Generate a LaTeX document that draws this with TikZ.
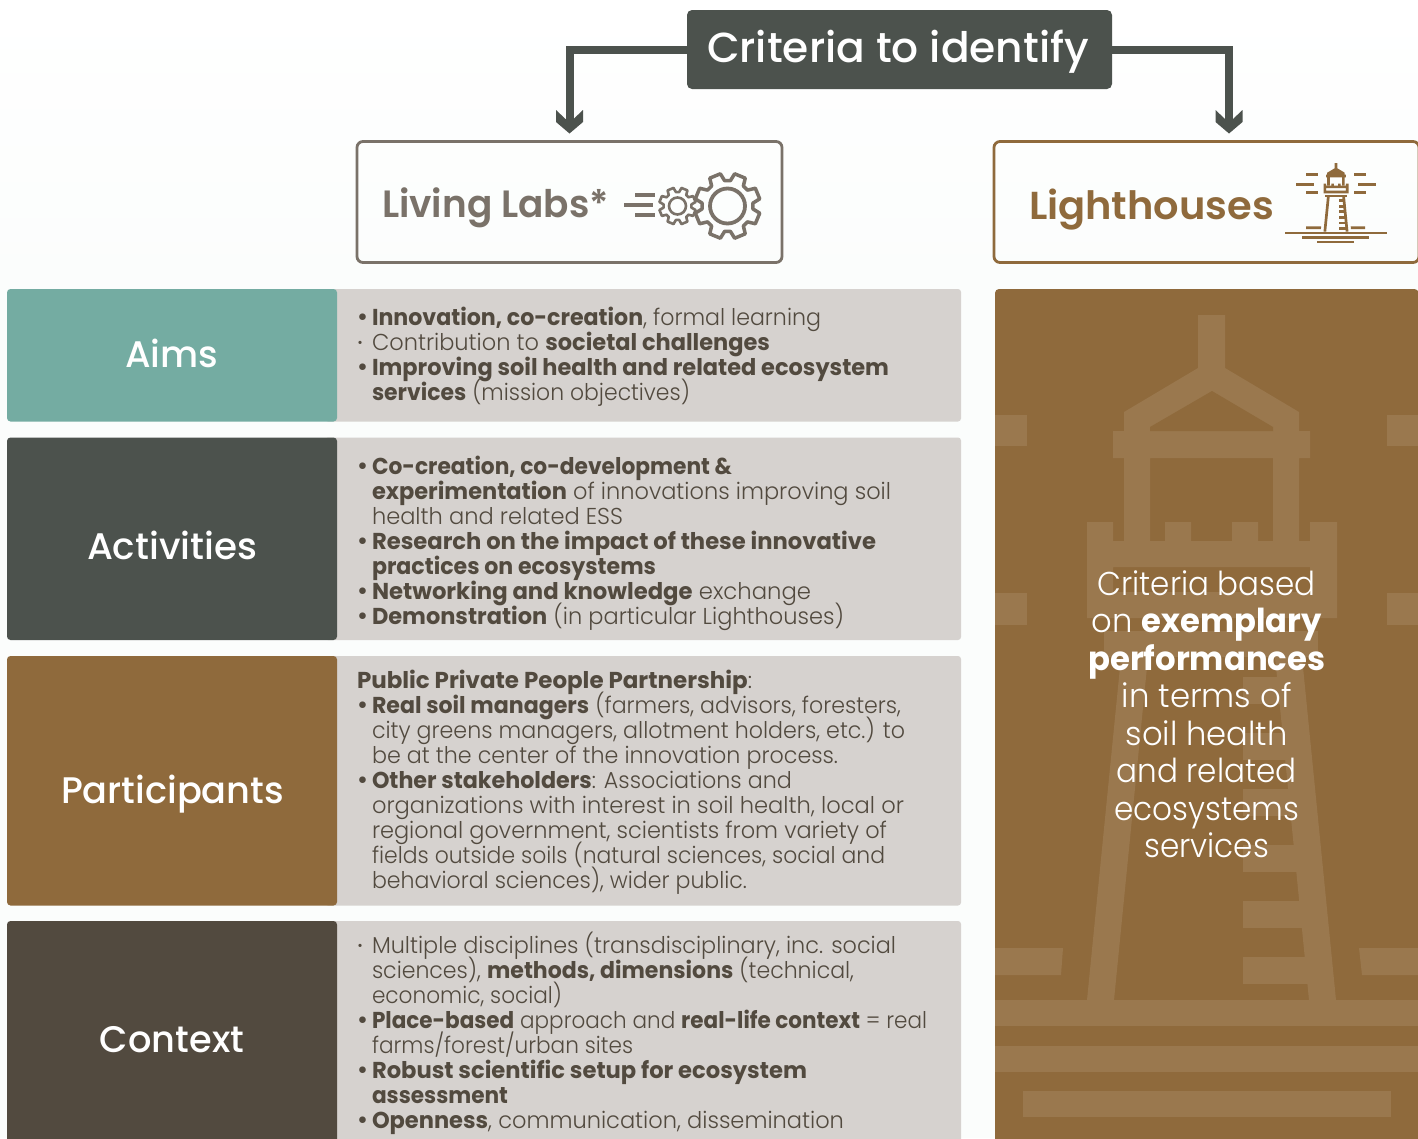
\documentclass[tikz,border=0pt]{standalone}
\usepackage{fontspec}
\usepackage{graphicx}
\usetikzlibrary{arrows.meta}
\setmainfont{Poppins}[UprightFont=* Light,BoldFont=* Bold]
\newfontfamily\medfont{Poppins}[UprightFont=* Medium]
\newfontfamily\semifont{Poppins}[UprightFont=* SemiBold]
\definecolor{tealc}{HTML}{74ACA2}
\definecolor{darkc}{HTML}{4C524D}
\definecolor{brownc}{HTML}{8F6A3C}
\definecolor{ghostc}{HTML}{9A784E}
\definecolor{contextc}{HTML}{524A3F}
\definecolor{panelc}{HTML}{D6D2CF}
\definecolor{greyc}{HTML}{7A7269}
\definecolor{bodyc}{HTML}{524A3F}
\definecolor{paperc}{HTML}{FBFDFC}
\pgfdeclarearrow{
  name=Chev,
  setup code={
    \pgfarrowssettipend{0pt}
    \pgfarrowssetlineend{-10pt}
    \pgfarrowssetvisualbackend{-23.5pt}
    \pgfarrowssetbackend{-23.5pt}
  },
  drawing code={
    \pgfpathmoveto{\pgfqpoint{0pt}{0pt}}
    \pgfpathlineto{\pgfqpoint{-11.5pt}{13.5pt}}
    \pgfpathlineto{\pgfqpoint{-23.5pt}{13.5pt}}
    \pgfpathlineto{\pgfqpoint{-14.5pt}{4pt}}
    \pgfpathlineto{\pgfqpoint{-14.5pt}{-4pt}}
    \pgfpathlineto{\pgfqpoint{-23.5pt}{-13.5pt}}
    \pgfpathlineto{\pgfqpoint{-11.5pt}{-13.5pt}}
    \pgfpathclose
    \pgfusepathqfill
  }
}
\newcommand\wl[2]{\smash{\resizebox{#1pt}{\height}{#2}}}
\newcommand\lnA[2]{\strut\hspace*{15pt}\wl{#1}{#2}}
\newcommand\lnB[2]{\strut\makebox[15pt][l]{\smash{\raisebox{.8pt}{\scalebox{.95}{\bfseries •}}}}\wl{#1}{#2}}
\newcommand\lnL[2]{\strut\makebox[15pt][l]{\hspace*{.5pt}\smash{\raisebox{3pt}{\scalebox{.6}{•}}}}\wl{#1}{#2}}
\newcommand\lnP[2]{\strut\wl{#1}{#2}}
\newcommand\lighthouseicon[1]{%
  \fill[#1] (1198,315) -- (1225,315) -- (1225,368) -- (1299,412) -- (1299,431) -- (1310,431)
    -- (1310,458) -- (1299,458) -- (1299,541) -- (1273,541) -- (1273,458) -- (1150,458)
    -- (1150,541) -- (1124,541) -- (1124,458) -- (1113,458) -- (1113,431) -- (1124,431)
    -- (1124,412) -- (1198,368) -- cycle;
  \fill[brownc] (1212,391) -- (1273,427) -- (1273,431) -- (1150,431) -- (1150,427) -- cycle;
  \fill[#1,even odd rule] (1087,522) -- (1113,522) -- (1113,541) -- (1165,541) -- (1165,522)
    -- (1191,522) -- (1191,541) -- (1232,541) -- (1232,522) -- (1258,522) -- (1258,541)
    -- (1310,541) -- (1310,522) -- (1337,522) -- (1337,618) -- (1087,618) -- cycle
    (1113,567) rectangle (1310,592);
  \fill[#1] (1104,631) rectangle (1318,657);
  \fill[#1] (1087,1000) -- (1114,1000) -- (1148,657) -- (1121,657) -- cycle;
  \fill[#1] (1309,1000) -- (1336,1000) -- (1302,657) -- (1275,657) -- cycle;
  \foreach \ry in {677,733,789,845,901,957}{
    \fill[#1] (1243,\ry) rectangle ({1322-(1000-\ry)*0.1},\ry+27);
  }
  \fill[#1] (912,415) rectangle (1027,446);
  \fill[#1] (1387,415) rectangle (1512,446);
  \fill[#1] (812,510) rectangle (992,541);
  \fill[#1] (1432,510) rectangle (1612,541);
  \fill[#1] (912,593) rectangle (1027,625);
  \fill[#1] (1387,593) rectangle (1512,625);
  \fill[#1] (912,948) -- (1063,948) -- (1061,975) -- (912,975) -- cycle;
  \fill[#1] (1359,948) -- (1502,948) -- (1502,975) -- (1362,975) -- cycle;
  \fill[#1] (702,1000) rectangle (1722,1026);
  \fill[#1] (872,1046) rectangle (1542,1072);
  \fill[#1] (1023,1091) rectangle (1391,1117);
}
\newcommand\gearshape[6]{% cx,cy,root,tip,offset,lw
  \draw[greyc,line width=#6pt,line join=round,shift={(#1,#2)}]
    (#5-16:#3)
    \foreach \gi in {0,...,7}{
      -- ({#5+\gi*45-16}:#3) -- ({#5+\gi*45-10}:#4) -- ({#5+\gi*45+10}:#4) -- ({#5+\gi*45+16}:#3)
    } -- cycle;
}
\tikzset{
  every node/.style={inner sep=0pt,outer sep=0pt},
  conn/.style={draw=darkc,line width=8pt,-Chev},
  labelbox/.style={fill=#1,rounded corners=3.5pt},
  labeltxt/.style={text=white,anchor=base,font=\fontsize{37}{37}\selectfont\medfont},
  bodytxt/.style={text=bodyc,anchor=north west,align=left,font=\fontsize{23}{25}\selectfont},
}
\begin{document}
\begin{tikzpicture}[x=1pt,y=-1pt]
\useasboundingbox (0,0) rectangle (1418,1138);
\clip (0,0) rectangle (1418,1138);
\shade[top color=white,bottom color=paperc] (0,0) rectangle (1418,290);
\fill[paperc] (0,290) rectangle (1418,1138);
% title
\node[fill=darkc,rounded corners=5pt,minimum width=425pt,minimum height=79pt] (titlebox) at (899.5,49.5) {};
\node[text=white,anchor=base,font=\fontsize{42}{42}\selectfont\medfont] (title) at (898,62) {\wl{382}{Criteria to identify}};
\coordinate (llTip) at (569.5,133.5);
\coordinate (lhTip) at (1229,133.5);
\draw[conn] (titlebox.west) -| (llTip);
\draw[conn] (titlebox.east) -| (lhTip);
% head boxes
\node[draw=greyc,line width=2.8pt,rounded corners=6pt,minimum width=425pt,minimum height=121pt] (llbox) at (569.5,202) {};
\node[draw=brownc,line width=2.8pt,rounded corners=6pt,minimum width=425pt,minimum height=121pt] (lhbox) at (1206.5,202) {};
\node[anchor=base west,text=greyc,font=\fontsize{38}{38}\selectfont\semifont] (lltext) at (382,217) {\wl{227}{Living Labs*}};
\node[anchor=base west,text=brownc,font=\fontsize{39}{39}\selectfont\semifont] (lhtext) at (1029,219) {\wl{245}{Lighthouses}};
% gears
\draw[greyc,line width=4pt] (635,195) -- (655,195) (624,205) -- (653,205) (635,215) -- (655,215);
\gearshape{677.5}{206}{14}{18.5}{22.5}{2.6}
\draw[greyc,line width=2.6pt] (677.5,206) circle (8.5);
\gearshape{727.5}{206}{25.5}{33}{22.5}{3.5}
\draw[greyc,line width=3.8pt] (727.5,206) circle (17.5);
% small lighthouse
\begin{scope}[shift={(1214.8,131.5)},scale=0.1]
\lighthouseicon{brownc}
\end{scope}
% grey panels
\fill[panelc,rounded corners=3pt] (325,289) rectangle (961,421.5);
\fill[panelc,rounded corners=3pt] (325,437.5) rectangle (961,640);
\fill[panelc,rounded corners=3pt] (325,656) rectangle (961,905.5);
\fill[panelc,rounded corners=3pt] (325,921) rectangle (961,1150);
% label boxes
\fill[labelbox=tealc] (7,289) rectangle (337,421.5);
\fill[labelbox=darkc] (7,437.5) rectangle (337,640);
\fill[labelbox=brownc] (7,656) rectangle (337,905.5);
\fill[labelbox=contextc] (7,921) rectangle (337,1150);
\node[labeltxt] (aims) at (171.5,367) {\wl{93}{Aims}};
\node[labeltxt] (activities) at (172,559) {\wl{170}{Activities}};
\node[labeltxt] (participants) at (172.5,803.5) {\wl{223}{Participants}};
\node[labeltxt] (context) at (172,1052) {\wl{144}{Context}};
% body texts
\node[bodytxt] (aimstext) at (357,307.5) {%
\lnB{449}{\textbf{Innovation, co-creation}, formal learning}\\
\lnL{398}{Contribution to \textbf{societal challenges}}\\
\lnB{517}{\textbf{Improving soil health and related ecosystem}}\\
\lnA{318}{\textbf{services} (mission objectives)}};
\node[bodytxt] (acttext) at (357,456.5) {%
\lnB{360}{\textbf{Co-creation, co-development \&}}\\
\lnA{519}{\textbf{experimentation} of innovations improving soil}\\
\lnA{251}{health and related ESS}\\
\lnB{504}{\textbf{Research on the impact of these innovative}}\\
\lnA{284}{\textbf{practices on ecosystems}}\\
\lnB{439}{\textbf{Networking and knowledge} exchange}\\
\lnB{472}{\textbf{Demonstration} (in particular Lighthouses)}};
\node[bodytxt] (parttext) at (357,670.5) {%
\lnP{395}{\textbf{Public Private People Partnership}:}\\
\lnB{529}{\textbf{Real soil managers} (farmers, advisors, foresters,}\\
\lnA{533}{city greens managers, allotment holders, etc.) to}\\
\lnA{466}{be at the center of the innovation process.}\\
\lnB{420}{\textbf{Other stakeholders}: Associations and}\\
\lnA{532}{organizations with interest in soil health, local or}\\
\lnA{515}{regional government, scientists from variety of}\\
\lnA{513}{fields outside soils (natural sciences, social and}\\
\lnA{375}{behavioral sciences), wider public.}};
\node[bodytxt] (conttext) at (357,935.5) {%
\lnL{524}{Multiple disciplines (transdisciplinary, inc. social}\\
\lnA{482}{sciences), \textbf{methods, dimensions} (technical,}\\
\lnA{190}{economic, social)}\\
\lnB{555}{\textbf{Place-based} approach and \textbf{real-life context} = real}\\
\lnA{261}{farms/forest/urban sites}\\
\lnB{435}{\textbf{Robust scientific setup for ecosystem}}\\
\lnA{136}{\textbf{assessment}}\\
\lnB{472}{\textbf{Openness}, communication, dissemination}};
% right panel
\begin{scope}
\path[clip,rounded corners=4pt] (995,289) rectangle (1418.5,1160);
\fill[brownc] (995,289) rectangle (1418.5,1160);
\lighthouseicon{ghostc}
\end{scope}
\node[text=white,anchor=north,align=center,font=\fontsize{33}{37.5}\selectfont] (crit) at (1206.7,569) {%
\strut\wl{218}{Criteria based}\\
\strut\wl{230}{on \textbf{exemplary}}\\
\strut\wl{237}{\textbf{performances}}\\
\strut\wl{170}{in terms of}\\
\strut\wl{162}{soil health}\\
\strut\wl{180}{and related}\\
\strut\wl{185}{ecosystems}\\
\strut\wl{125}{services}};
\end{tikzpicture}
\end{document}
